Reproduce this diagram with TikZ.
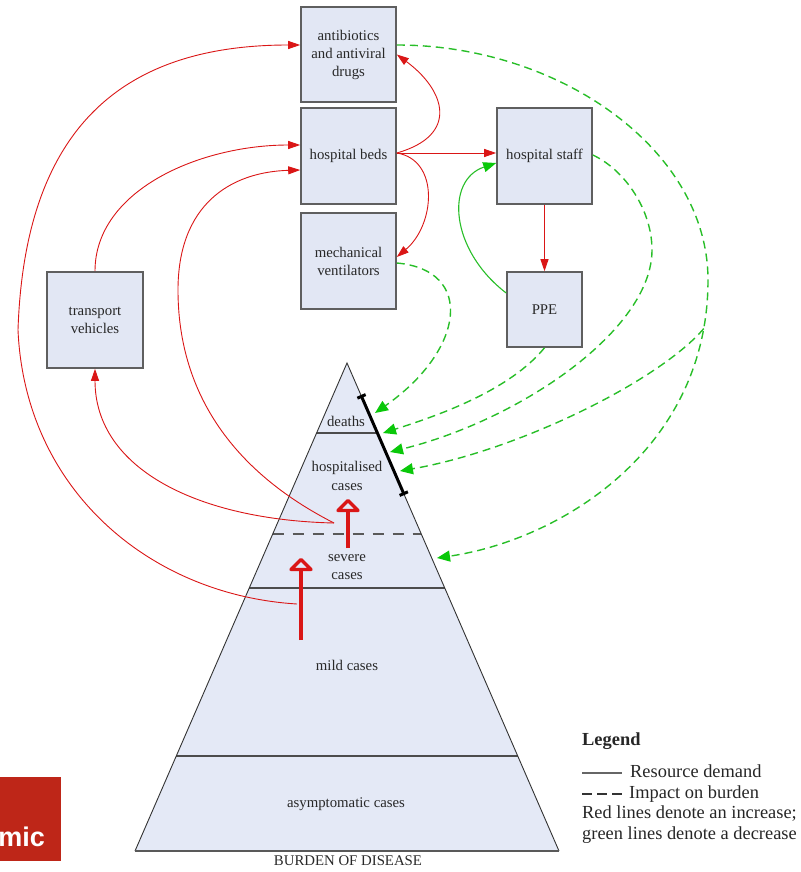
\documentclass[tikz,border=0pt]{standalone}
\usepackage{fontspec}
\setmainfont{Liberation Serif}
\newfontfamily\logofont{Liberation Sans}
\usetikzlibrary{arrows.meta,calc}
\definecolor{boxfill}{RGB}{226,231,244}
\definecolor{pyrfill}{RGB}{228,233,246}
\definecolor{boxline}{RGB}{95,95,95}
\definecolor{redl}{RGB}{218,22,22}
\definecolor{greenl}{RGB}{40,190,40}
\definecolor{greentip}{RGB}{10,200,10}
\definecolor{txt}{RGB}{40,40,40}
\definecolor{logored}{RGB}{190,38,24}
\begin{document}
\begin{tikzpicture}[x=1pt,y=-1pt,
  resbox/.style={draw=boxline, line width=1.6pt, fill=boxfill, inner sep=0pt, align=center, text=txt, font=\fontsize{14.8}{18}\selectfont},
  lbl/.style={text=txt, align=center, font=\fontsize{14.8}{18.5}\selectfont, inner sep=0pt},
  legtxt/.style={text=black!85, inner sep=0pt, font=\fontsize{18.4}{21}\selectfont},
  demand/.style={draw=redl, line width=0.9pt, -{Triangle[length=12pt,width=8pt]}},
  impact/.style={draw=greenl, line width=1.4pt, dash pattern=on 8pt off 5pt, -{Triangle[length=13pt,width=11pt,color=greentip]}},
  relief/.style={draw=greenl, line width=1.1pt, -{Triangle[length=13pt,width=10pt,color=greentip]}},
  level/.style={draw=black!70, line width=1.3pt},
  hollowshaft/.style={draw=redl, line width=4pt},
  hollowhead/.style={draw=redl, line width=3.4pt, fill=pyrfill, line join=round}
]
\useasboundingbox (0,0) rectangle (800,872);

% ---------- logo fragment ----------
\begin{scope}
  \clip (0,777) rectangle (61,861);
  \fill[logored] (0,777) rectangle (61,861);
  \node[anchor=base east, text=white, inner sep=0pt, font=\logofont\bfseries\fontsize{27}{27}\selectfont] (logo) at (45,846) {mic};
\end{scope}

% ---------- pyramid ----------
\coordinate (apex) at (347,363);
\coordinate (bl) at (135,851);
\coordinate (br) at (559,851);
\fill[pyrfill] (apex) -- (br) -- (bl) -- cycle;
\draw[level] (316.6,433) -- (377.4,433);
\draw[draw=black!65, line width=1.2pt, dash pattern=on 11pt off 9pt] (272.7,534) -- (421.3,534);
\draw[level] (249.3,588) -- (444.7,588);
\draw[level] (176.3,756) -- (517.7,756);
\draw[black!80, line width=0.9pt] (bl) -- (apex) -- (br);
\draw[black!65, line width=2.2pt] (bl) -- (br);
\draw[black, line width=3pt, {Bar[width=9pt]}-{Bar[width=9pt]}] ($(apex)!0.0656!(br)$) -- ($(apex)!0.2705!(br)$);

\node[lbl] (deaths) at (346,421) {deaths};
\node[lbl] (hosp) at (347,476) {hospitalised\\cases};
\node[lbl] (severe) at (347,567) {severe\\cases};
\node[lbl] (mild) at (347,665) {mild cases};
\node[lbl] (asym) at (346,804) {asymptomatic cases};
\node[lbl] (burden) at (348,861) {BURDEN OF DISEASE};

% hollow red arrows
\draw[hollowshaft] (348,548) -- (348,511);
\draw[hollowhead] (348,500.5) -- (338,510.5) -- (358,510.5) -- cycle;
\draw[hollowshaft] (301,640) -- (301,570);
\draw[hollowhead] (301,559.5) -- (291,569.5) -- (311,569.5) -- cycle;

% ---------- resource boxes ----------
\node[resbox, minimum width=95pt, minimum height=95pt] (anti) at (348.5,54.5) {antibiotics\\and antiviral\\drugs};
\node[resbox, minimum width=95pt, minimum height=96pt] (beds) at (348.5,156) {hospital beds};
\node[resbox, minimum width=95pt, minimum height=96pt] (vent) at (348.5,261) {mechanical\\ventilators};
\node[resbox, minimum width=95pt, minimum height=96pt] (staff) at (544.5,156) {hospital staff};
\node[resbox, minimum width=75pt, minimum height=75pt] (ppe) at (544.5,309.5) {PPE};
\node[resbox, minimum width=96pt, minimum height=96pt] (trans) at (95,320) {transport\\vehicles};

% ---------- named end points ----------
\coordinate (h1) at (334,523);
\coordinate (s1) at (297,604);
\coordinate (bedsout) at ($(beds.east)+(0,-3)$);
\coordinate (d1) at (375,413);
\coordinate (d2) at (383,433);
\coordinate (d3) at (390,452);
\coordinate (d4) at (400,471);
\coordinate (d5) at (437,558);

% ---------- red: resource demand ----------
\draw[demand] (s1) .. controls (150,595) and (25,490) .. (18,330)
   .. controls (25,120) and (130,45) .. ($(anti.west)+(0,-9.5)$);
\draw[demand] (h1) .. controls (200,520) and (95,470) .. (trans.south);
\draw[demand] (h1) .. controls (230,470) and (178,390) .. (178,290)
   .. controls (178,205) and (230,172) .. ($(beds.west)+(0,14)$);
\draw[demand] (trans.north) .. controls (95,190) and (200,145) .. ($(beds.west)+(0,-11)$);
\draw[demand] (bedsout) .. controls (460,135) and (445,90) .. (anti.east);
\draw[demand] (bedsout) .. controls (440,160) and (435,225) .. ($(vent.east)+(0,-4)$);
\draw[demand] (bedsout) -- ($(staff.west)+(0,-3)$);
\draw[demand] (staff.south) -- (ppe.north);

% ---------- green solid ----------
\draw[relief] ($(ppe.west)+(0,-16.5)$) .. controls (450,250) and (445,180) .. ($(staff.west)+(0,7)$);

% ---------- green dashed: impact on burden ----------
\draw[impact] ($(vent.east)+(0,2)$) .. controls (475,270) and (465,350) .. (d1);
\draw[impact] (ppe.south) .. controls (510,390) and (440,415) .. (d2);
\draw[impact] ($(staff.east)+(0,-1)$) .. controls (625,170) and (652,210) .. (652,250)
   .. controls (652,330) and (520,420) .. (d3);
\draw[impact] ($(anti.east)+(0,-9.5)$) .. controls (560,45) and (708,150) .. (708,280)
   .. controls (708,450) and (560,540) .. coordinate[pos=0.1] (fork) (d5);
\draw[impact] (fork) .. controls (660,380) and (520,450) .. (d4);

% ---------- legend ----------
\node[legtxt, anchor=base west, font=\bfseries\fontsize{18.4}{21}\selectfont] (legend) at (582,745) {Legend};
\coordinate (ls1) at (582,773);
\coordinate (ls2) at (622,773);
\draw[black!60, line width=2.8pt] (ls1) -- (ls2);
\node[legtxt, anchor=base west] (legres) at (630,777) {Resource demand};
\coordinate (ld1) at (582,794);
\coordinate (ld2) at (625,794);
\draw[black!80, line width=1.8pt, dash pattern=on 10pt off 5pt] (ld1) -- (ld2);
\node[legtxt, anchor=base west] (legimp) at (629,798) {Impact on burden};
\node[legtxt, anchor=base west] (legred) at (582,818) {Red lines denote an increase;};
\node[legtxt, anchor=base west] (leggreen) at (582,839) {green lines denote a decrease};
\end{tikzpicture}
\end{document}
